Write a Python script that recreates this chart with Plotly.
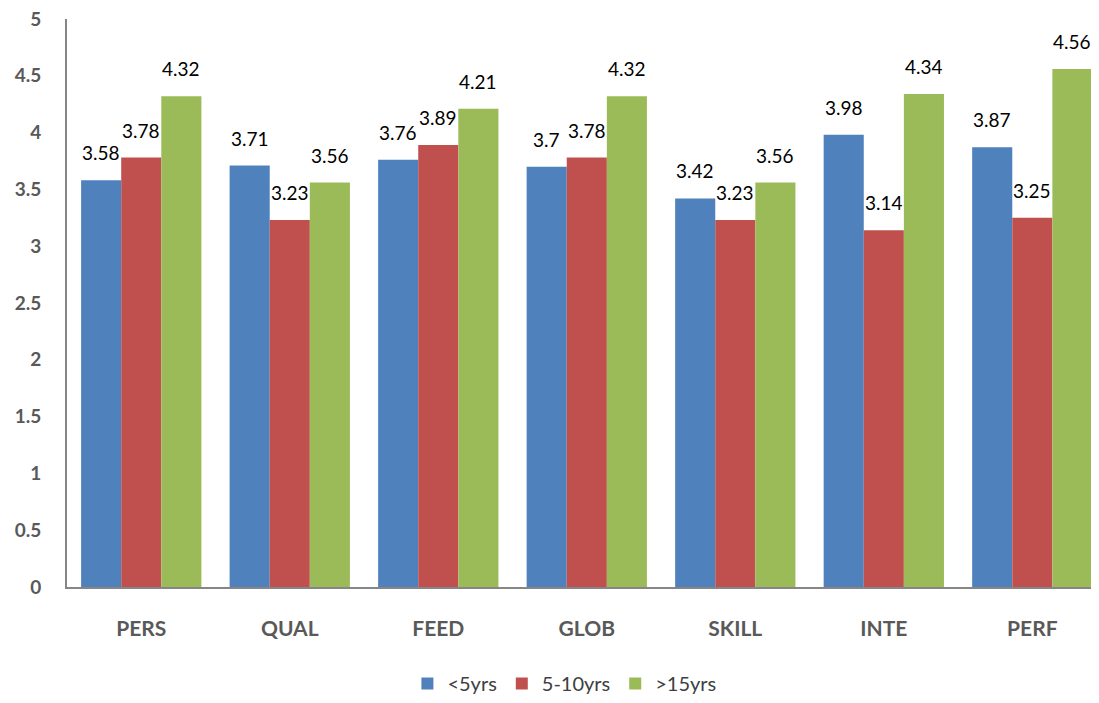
import plotly.graph_objects as go

categories = ["PERS", "QUAL", "FEED", "GLOB", "SKILL", "INTE", "PERF"]
series_names = ["<5yrs", "5-10yrs", ">15yrs"]
lt5 = [3.58, 3.71, 3.76, 3.7, 3.42, 3.98, 3.87]
y5_10 = [3.78, 3.23, 3.89, 3.78, 3.23, 3.14, 3.25]
gt15 = [4.32, 3.56, 4.21, 4.32, 3.56, 4.34, 4.56]
y_ticks = [0, 0.5, 1, 1.5, 2, 2.5, 3, 3.5, 4, 4.5, 5]
colors = ["#4F81BD", "#C0504D", "#9BBB59"]

BAR_PX = 40.1  # width of one bar in pixels (used to offset labels over each bar)

fig = go.Figure()
all_series = [lt5, y5_10, gt15]
for name, vals, col in zip(series_names, all_series, colors):
    fig.add_trace(go.Bar(
        x=categories, y=vals, name=name,
        marker=dict(color=col, line=dict(width=0)),
    ))

annotations = []
for i, vals in enumerate(all_series):
    for cat, v in zip(categories, vals):
        annotations.append(dict(
            x=cat, y=v, xref="x", yref="y", text=f"{v:g}", showarrow=False,
            xanchor="center", yanchor="bottom", xshift=(i - 1) * BAR_PX, yshift=14,
            font=dict(family="Lato", size=19, color="black"),
        ))

fig.update_layout(
    width=1091, height=695,
    margin=dict(l=59, r=0, t=11, b=116),
    paper_bgcolor="white", plot_bgcolor="white",
    barmode="group", bargap=0.19, bargroupgap=0,
    showlegend=True,
    annotations=annotations,
    legend=dict(orientation="h", xref="container", x=0.51, xanchor="center",
                yref="container", y=0.0, yanchor="bottom",
                font=dict(family="Lato", size=20, color="#404040"),
                itemwidth=30, traceorder="normal"),
)
fig.update_xaxes(
    range=[-0.5, 6.449], showline=True, linecolor="#868686", linewidth=2,
    ticks="", tickfont=dict(family="Lato", size=21, color="#595959", weight="bold"),
    ticklabelstandoff=22, automargin=False, ticklabeloverflow="allow",
)
fig.update_yaxes(
    range=[0, 5], tickvals=y_ticks, ticktext=[f"{t:g}" for t in y_ticks],
    showgrid=False, zeroline=False, showline=True, linecolor="#868686", linewidth=2,
    ticks="", tickfont=dict(family="Lato", size=19, color="#595959", weight="bold"),
    ticklabelstandoff=20, automargin=False, ticklabeloverflow="allow",
)
fig.write_html("out.html")
